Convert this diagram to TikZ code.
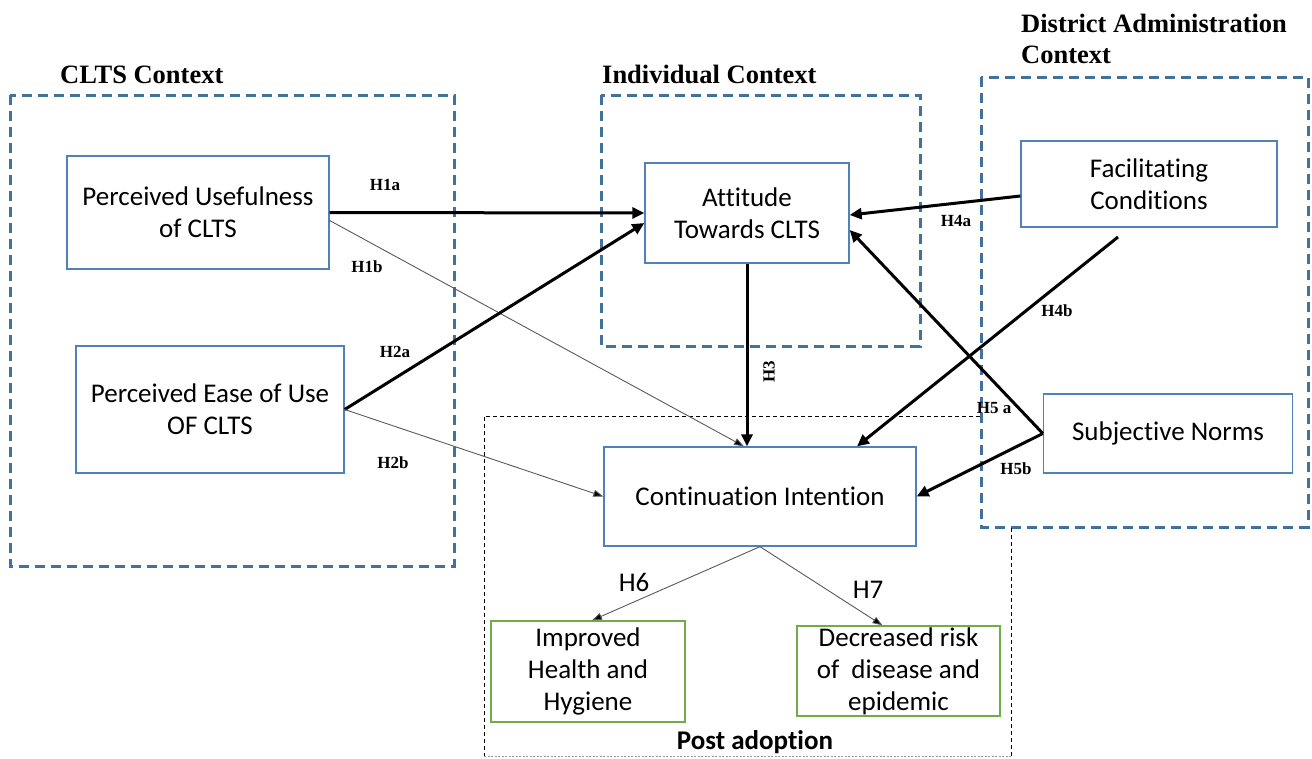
\documentclass[tikz,border=0pt]{standalone}
\usepackage{fontspec}
\setmainfont{Carlito}[RawFeature={-liga;-clig;-calt;-dlig;-rlig}]
\newfontfamily\tnr{Liberation Serif}
\usetikzlibrary{arrows.meta}

\definecolor{ctxblue}{RGB}{65,113,156}
\definecolor{boxblue}{RGB}{79,129,189}
\definecolor{boxgreen}{RGB}{112,173,71}

\begin{document}
\begin{tikzpicture}[x=1pt,y=-1pt,
  ctx/.style={draw=ctxblue, line width=3pt, dash pattern=on 10pt off 6pt},
  ctxlabel/.style={font=\tnr\bfseries\fontsize{26.5}{30}\selectfont, anchor=base west, inner sep=0pt},
  construct/.style={draw=boxblue, line width=1.3pt, align=center, font=\fontsize{27}{32}\selectfont, inner sep=0pt},
  outcome/.style={construct, draw=boxgreen},
  hyp/.style={font=\tnr\bfseries\fontsize{17}{19}\selectfont, inner sep=0pt},
  hypsans/.style={font=\fontsize{27}{30}\selectfont, inner sep=0pt},
  strong/.style={line width=3pt, -{Triangle[length=12pt,width=11pt]}},
  weak/.style={line width=0.9pt, draw=black!65, -{Triangle[length=10pt,width=7pt,fill=black]}},
  postbox/.style={line width=1pt, dash pattern=on 4pt off 3pt},
]
\useasboundingbox (0,0) rectangle (1312,758);

% context boxes
\draw[ctx] (10,95) rectangle (454,566);
\draw[ctx] (601,95) rectangle (920,346);
\draw[ctx] (981,77) rectangle (1308,527);
\node[ctxlabel] (lclts) at (60,83) {CLTS Context};
\node[ctxlabel] (lind) at (602,83) {Individual Context};
\node[ctxlabel] (ldist1) at (1021,32) {District Administration};
\node[ctxlabel] (ldist2) at (1021,63) {Context};

% post adoption box
\draw[postbox] (980,416) -- (484,416) -- (484,758);
\draw[postbox] (1011,528) -- (1011,758);
\draw[line width=0.8pt, draw=black!40, dash pattern=on 2pt off 1.5pt] (484,756) -- (1011,756);
\node[font=\bfseries\fontsize{27}{30}\selectfont, inner sep=0pt] (lpost) at (755,742) {Post adoption};

% constructs
\node[construct, minimum width=262pt, minimum height=113pt] (pu) at (198,212.5) {Perceived Usefulness\\of CLTS};
\node[construct, minimum width=268pt, minimum height=127pt] (peou) at (210,409.5) {Perceived Ease of Use\\OF CLTS};
\node[construct, minimum width=204pt, minimum height=100pt] (att) at (747,213) {Attitude\\Towards CLTS};
\node[construct, minimum width=256pt, minimum height=86pt] (fc) at (1149,184) {Facilitating\\Conditions};
\node[construct, minimum width=249pt, minimum height=79pt] (sn) at (1168,433.5) {Subjective Norms};
\node[construct, minimum width=312pt, minimum height=99pt] (ci) at (760,496.5) {Continuation Intention};
\node[outcome, minimum width=194pt, minimum height=101pt] (ihh) at (588,671.5) {Improved\\Health and\\Hygiene};
\node[outcome, minimum width=203pt, minimum height=90pt] (dr) at (898.5,671) {};
\node[align=center, font=\fontsize{27}{32}\selectfont, inner sep=0pt] (drtext) at (898.5,671) {Decreased risk\\of\ \ disease and\\epidemic};

% free end of H4b
\coordinate (h4bstart) at (1118,237);

% connectors
\draw[strong] (pu.east) -- (att.west);
\draw[weak] ([yshift=-8pt]pu.east) -- ([xshift=-16pt]ci.north);
\draw[strong] (peou.east) -- ([yshift=-10pt]att.west);
\draw[weak] (peou.east) -- (ci.west);
\draw[strong] (att.south) -- (att.south |- ci.north);
\draw[strong] ([yshift=-12pt]fc.west) -- ([yshift=-2pt]att.east);
\draw[strong] (h4bstart) -- ([xshift=97pt]ci.north);
\draw[strong] (sn.west) -- ([yshift=-17pt]att.east);
\draw[strong] (sn.west) -- (ci.east);
\draw[weak] (ci.south) -- ([xshift=4pt]ihh.north);
\draw[weak] (ci.south) -- ([xshift=-16pt]dr.north);

% hypothesis labels
\node[hyp] (h1a) at (385,185) {H1a};
\node[hyp] (h1b) at (367,267) {H1b};
\node[hyp] (h2a) at (395,352) {H2a};
\node[hyp] (h2b) at (393,463) {H2b};
\node[hyp, rotate=90] (h3) at (769,372) {H3};
\node[hyp] (h4a) at (956,221) {H4a};
\node[hyp] (h4b) at (1057,311) {H4b};
\node[hyp] (h5a) at (994,408) {H5 a};
\node[hyp] (h5b) at (1016,469) {H5b};
\node[hypsans] (h6) at (634,582) {H6};
\node[hypsans] (h7) at (868,590) {H7};
\end{tikzpicture}
\end{document}
